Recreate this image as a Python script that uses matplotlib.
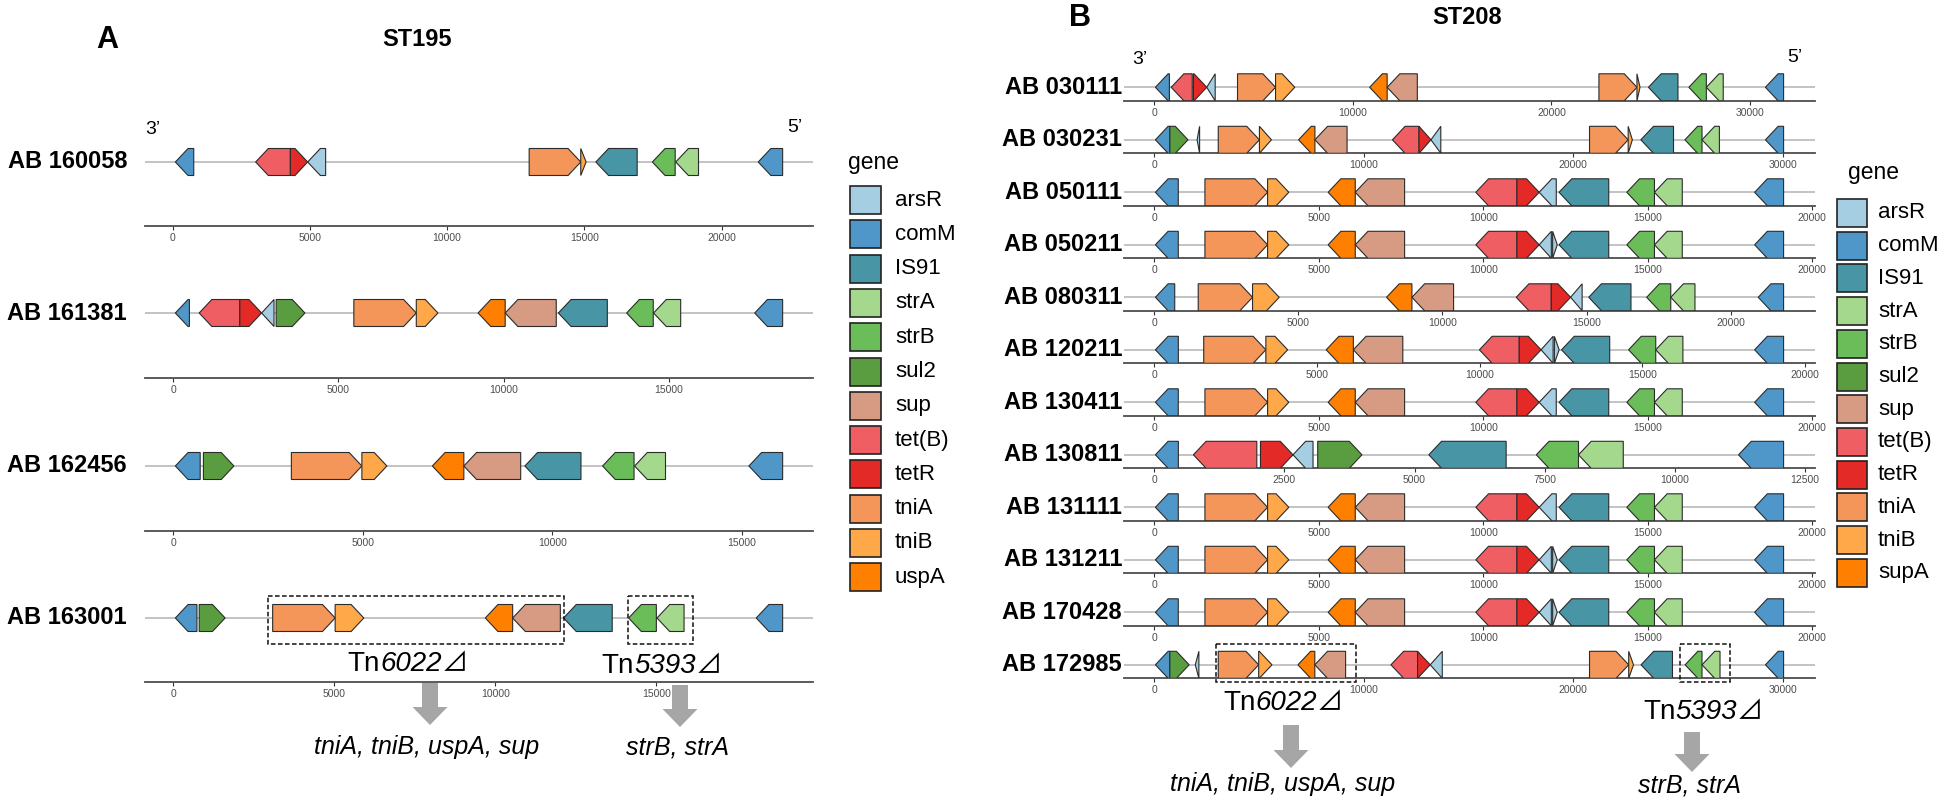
import matplotlib
matplotlib.use("Agg")
import matplotlib.pyplot as plt
from matplotlib.patches import Polygon, Rectangle, FancyArrow
from matplotlib.ticker import MaxNLocator, FuncFormatter

plt.rcParams['font.family'] = ['Liberation Sans', 'DejaVu Sans']

# gene colours and legend order
COLORS = {
    "arsR": "#A6CEE3", "comM": "#4F97C9", "IS91": "#4895A6", "strA": "#A4D88D",
    "strB": "#6BBD5A", "sul2": "#5A9D40", "sup": "#D79A83", "tet(B)": "#EE5E63",
    "tetR": "#E32A26", "tniA": "#F4955A", "tniB": "#FFA84A", "uspA": "#FF7F00",
}
LEGEND_KEYS = ["arsR", "comM", "IS91", "strA", "strB", "sul2", "sup", "tet(B)",
               "tetR", "tniA", "tniB", "uspA"]
LEGEND_A = ["arsR", "comM", "IS91", "strA", "strB", "sul2", "sup", "tet(B)",
            "tetR", "tniA", "tniB", "uspA"]
LEGEND_B = ["arsR", "comM", "IS91", "strA", "strB", "sul2", "sup", "tet(B)",
            "tetR", "tniA", "tniB", "supA"]

# (gene, start, end, strand)  -- ST195
AB160058 = [("comM", 100, 770, -1), ("tet(B)", 3025, 4290, -1), ("tetR", 4290, 4920, 1),
            ("arsR", 4920, 5575, -1), ("tniA", 12990, 14870, 1), ("tniB", 14870, 15065, 1),
            ("IS91", 15420, 16925, -1), ("strB", 17480, 18310, -1), ("strA", 18330, 19160, -1),
            ("comM", 21335, 22225, -1)]
AB161381 = [("comM", 70, 495, -1), ("tet(B)", 790, 2020, -1), ("tetR", 2020, 2680, 1),
            ("arsR", 2680, 3055, -1), ("sul2", 3120, 3990, 1), ("tniA", 5470, 7360, 1),
            ("tniB", 7360, 8015, 1), ("uspA", 9230, 10050, -1), ("sup", 10050, 11595, -1),
            ("IS91", 11660, 13140, -1), ("strB", 13725, 14530, -1), ("strA", 14540, 15360, -1),
            ("comM", 17600, 18445, -1)]
AB162456 = [("comM", 60, 715, -1), ("sul2", 800, 1605, 1), ("tniA", 3120, 4980, 1),
            ("tniB", 4980, 5640, 1), ("uspA", 6840, 7670, -1), ("sup", 7670, 9170, -1),
            ("IS91", 9280, 10760, -1), ("strB", 11330, 12160, -1), ("strA", 12175, 12990, -1),
            ("comM", 15190, 16080, -1)]
AB163001 = [("comM", 70, 740, -1), ("sul2", 810, 1615, 1), ("tniA", 3090, 5030, 1),
            ("tniB", 5030, 5920, 1), ("uspA", 9690, 10540, -1), ("sup", 10540, 12020, -1),
            ("IS91", 12120, 13630, -1), ("strB", 14140, 15000, -1), ("strA", 15020, 15860, -1),
            ("comM", 18100, 18920, -1)]
BOXES_163001 = [(2945, 12130), (14120, 16127)]

# ST208
AB030111 = [("comM", 55, 760, -1), ("tet(B)", 850, 1910, -1), ("tetR", 1970, 2640, 1),
            ("arsR", 2640, 3065, -1), ("tniA", 4190, 6105, 1), ("tniB", 6105, 7075, 1),
            ("uspA", 10845, 11725, -1), ("sup", 11725, 13245, -1), ("tniA", 22390, 24305, 1),
            ("tniB", 24305, 24460, 1), ("IS91", 24885, 26370, -1), ("strB", 26920, 27800, -1),
            ("strA", 27800, 28650, -1), ("comM", 30775, 31690, -1)]
AB030231 = [("comM", 55, 745, -1), ("sul2", 745, 1610, 1), ("arsR", 2045, 2165, -1),
            ("tniA", 3055, 5020, 1), ("tniB", 5020, 5595, 1), ("uspA", 6890, 7670, -1),
            ("sup", 7670, 9205, -1), ("tet(B)", 11370, 12640, -1), ("tetR", 12640, 13210, 1),
            ("arsR", 13210, 13680, -1), ("tniA", 20780, 22625, 1), ("tniB", 22625, 22825, 1),
            ("IS91", 23230, 24790, -1), ("strB", 25335, 26150, -1), ("strA", 26150, 26980, -1),
            ("comM", 29180, 30045, -1)]
AB050111 = [("comM", 35, 730, -1), ("tniA", 1540, 3445, 1), ("tniB", 3445, 4090, 1),
            ("uspA", 5285, 6110, -1), ("sup", 6110, 7610, -1), ("tet(B)", 9775, 11025, -1),
            ("tetR", 11025, 11700, 1), ("arsR", 11700, 12220, -1), ("IS91", 12305, 13815, -1),
            ("strB", 14365, 15205, -1), ("strA", 15205, 16050, -1), ("comM", 18250, 19130, -1)]
AB050211 = [("comM", 35, 730, -1), ("tniA", 1540, 3445, 1), ("tniB", 3445, 4090, 1),
            ("uspA", 5285, 6110, -1), ("sup", 6110, 7610, -1), ("tet(B)", 9775, 11025, -1),
            ("tetR", 11025, 11700, 1), ("arsR", 11700, 12070, -1), ("arsR", 12110, 12250, 1),
            ("IS91", 12305, 13815, -1), ("strB", 14365, 15205, -1), ("strA", 15205, 16050, -1),
            ("comM", 18250, 19130, -1)]
AB080311 = [("comM", 40, 710, -1), ("tniA", 1525, 3410, 1), ("tniB", 3410, 4335, 1),
            ("uspA", 8060, 8940, -1), ("sup", 8940, 10385, -1), ("tet(B)", 12560, 13775, -1),
            ("tetR", 13775, 14445, 1), ("arsR", 14445, 14845, -1), ("IS91", 15075, 16540, -1),
            ("strB", 17085, 17920, -1), ("strA", 17920, 18760, -1), ("comM", 20955, 21835, -1)]
AB120211 = [("comM", 35, 740, -1), ("tniA", 1520, 3430, 1), ("tniB", 3430, 4100, 1),
            ("uspA", 5285, 6120, -1), ("sup", 6120, 7640, -1), ("tet(B)", 9995, 11220, -1),
            ("tetR", 11220, 11890, 1), ("arsR", 11890, 12260, -1), ("arsR", 12300, 12445, 1),
            ("IS91", 12520, 14000, -1), ("strB", 14580, 15415, -1), ("strA", 15415, 16250, -1),
            ("comM", 18455, 19345, -1)]
AB130411 = list(AB050111)
AB130811 = [("comM", 22, 463, -1), ("tet(B)", 752, 1970, -1), ("tetR", 2040, 2665, 1),
            ("arsR", 2665, 3050, -1), ("sul2", 3140, 3990, 1), ("IS91", 5275, 6760, -1),
            ("strB", 7340, 8150, -1), ("strA", 8150, 9010, -1), ("comM", 11225, 12090, -1)]
AB131111 = list(AB050111)
AB131211 = list(AB050211)
AB170428 = list(AB050211)
AB172985 = [("comM", 55, 745, -1), ("sul2", 745, 1665, 1), ("arsR", 1960, 2130, -1),
            ("tniA", 3055, 4985, 1), ("tniB", 4985, 5620, 1), ("uspA", 6860, 7665, -1),
            ("sup", 7665, 9135, -1), ("tet(B)", 11300, 12570, -1), ("tetR", 12570, 13175, 1),
            ("arsR", 13175, 13750, -1), ("tniA", 20780, 22650, 1), ("tniB", 22650, 22880, 1),
            ("IS91", 23240, 24740, -1), ("strB", 25345, 26150, -1), ("strA", 26150, 27010, -1),
            ("comM", 29180, 30045, -1)]
BOXES_172985 = [(2945, 9630), (25110, 27495)]

TRACKS_A = [("AB 160058", AB160058), ("AB 161381", AB161381),
            ("AB 162456", AB162456), ("AB 163001", AB163001)]
TRACKS_B = [("AB 030111", AB030111), ("AB 030231", AB030231), ("AB 050111", AB050111),
            ("AB 050211", AB050211), ("AB 080311", AB080311), ("AB 120211", AB120211),
            ("AB 130411", AB130411), ("AB 130811", AB130811), ("AB 131111", AB131111),
            ("AB 131211", AB131211), ("AB 170428", AB170428), ("AB 172985", AB172985)]

W, H = 1946, 802
fig = plt.figure(figsize=(W / 100, H / 100), dpi=100)


def px_axes(left, top, right, bottom):
    return fig.add_axes([left / W, 1 - bottom / H, (right - left) / W, (bottom - top) / H])


over = px_axes(0, 0, W, H)
over.set_xlim(0, W)
over.set_ylim(H, 0)
over.axis("off")

HALF = 13.5   # half arrow height, px
HEAD = 12.7   # arrow head length, px


def draw_track(name, genes, left, right, gene_y, axis_y, label_x, boxes=(), box_span=(22, 24)):
    top = gene_y - 40
    ax = px_axes(left, top, right, axis_y)
    ax.patch.set_alpha(0)
    lo = min(g[1] for g in genes)
    hi = max(g[2] for g in genes)
    pad = 0.05 * (hi - lo)
    ax.set_xlim(lo - pad, hi + pad)
    ax.set_ylim(axis_y, top)
    head = HEAD * (hi - lo + 2 * pad) / (right - left)
    ax.axhline(gene_y, color="#BEBEBE", lw=1.3, zorder=1)
    for gene, s, e, strand in genes:
        h = min(head, e - s)
        if strand > 0:
            x0, x1, hx = s, e, e - h
        else:
            x0, x1, hx = e, s, s + h
        pts = [(x0, gene_y - HALF), (hx, gene_y - HALF), (x1, gene_y),
               (hx, gene_y + HALF), (x0, gene_y + HALF)]
        ax.add_patch(Polygon(pts, closed=True, fc=COLORS[gene], ec="#2b2b2b",
                             lw=0.8, zorder=3))
    for bs, be in boxes:
        ax.add_patch(Rectangle((bs, gene_y - box_span[0]), be - bs, sum(box_span),
                               fill=False, ec="#111111", lw=1.1, ls=(0, (3, 1.6)),
                               clip_on=False, zorder=4))
    for sp in ["left", "top", "right"]:
        ax.spines[sp].set_visible(False)
    ax.spines["bottom"].set_color("#4D4D4D")
    ax.spines["bottom"].set_linewidth(1.3)
    ax.set_yticks([])
    ax.xaxis.set_major_locator(MaxNLocator(nbins=6, steps=[1, 2.5, 5, 10]))
    ax.xaxis.set_major_formatter(FuncFormatter(lambda v, p: f"{v:.0f}"))
    ax.tick_params(axis="x", length=3, width=0.8, color="#333333", labelsize=7.5,
                   labelcolor="#4D4D4D", pad=2)
    over.text(label_x, gene_y, name, ha="right", va="center", fontsize=17, fontweight="bold")
    return ax


def tn_label(x, y, num):
    r = fig.canvas.get_renderer()
    parts = [("Tn", "normal", ["Liberation Sans"], 20),
             (num, "italic", ["Liberation Sans"], 20),
             ("\u22bf", "normal", ["Noto Sans CJK JP", "DejaVu Sans"], 19)]
    txts = [over.text(0, y, t, fontsize=fs, style=st, family=fam, va="center", ha="left")
            for t, st, fam, fs in parts]
    widths = [t.get_window_extent(renderer=r).width for t in txts]
    cx = x - sum(widths) / 2
    for t, w in zip(txts, widths):
        t.set_x(cx)
        cx += w


def draw_legend(x_box, y_top, pitch, bw, bh, labels, title_xy, text_x):
    over.text(title_xy[0], title_xy[1], "gene", fontsize=16.5, ha="left", va="center")
    for i, (lab, key) in enumerate(zip(labels, LEGEND_KEYS)):
        y = y_top + i * pitch
        over.add_patch(Rectangle((x_box, y), bw, bh, fc=COLORS[key], ec="#222222", lw=1.2))
        over.text(text_x, y + bh / 2, lab, fontsize=16, ha="left", va="center")


def big_arrow(x, y0, y1):
    over.add_patch(FancyArrow(x, y0, 0, y1 - y0, width=16, head_width=35, head_length=18,
                              length_includes_head=True, color="#A6A6A6", lw=0))


# ---- panel A ----
over.text(107, 40, "A", fontsize=22, fontweight="bold", ha="center", va="center")
over.text(417, 40, "ST195", fontsize=17, fontweight="bold", ha="center", va="center")
over.text(153, 130, "3\u2019", fontsize=14, ha="center", va="center")
over.text(795, 128, "5\u2019", fontsize=14, ha="center", va="center")
gene_ys_a = [162, 313, 466, 618]
axis_ys_a = [226, 378, 531, 682]
for i, (name, genes) in enumerate(TRACKS_A):
    boxes = BOXES_163001 if name == "AB 163001" else ()
    draw_track(name, genes, 145, 813, gene_ys_a[i], axis_ys_a[i], 127, boxes, (22, 26))
draw_legend(850, 186, 34.3, 31, 28, LEGEND_A, (848, 162), 895)
tn_label(408, 664, "6022")
tn_label(662, 666, "5393")
big_arrow(430, 683, 725)
big_arrow(680, 685, 727)
over.text(427, 747, "tniA, tniB, uspA, sup", fontsize=18, style="italic", ha="center", va="center")
over.text(678, 747, "strB, strA", fontsize=18, style="italic", ha="center", va="center")

# ---- panel B ----
over.text(1080, 18, "B", fontsize=22, fontweight="bold", ha="center", va="center")
over.text(1467, 18, "ST208", fontsize=17, fontweight="bold", ha="center", va="center")
over.text(1140, 60, "3\u2019", fontsize=14, ha="center", va="center")
over.text(1795, 58, "5\u2019", fontsize=14, ha="center", va="center")
for i, (name, genes) in enumerate(TRACKS_B):
    gy = 87.3 + 52.5 * i
    boxes = BOXES_172985 if name == "AB 172985" else ()
    draw_track(name, genes, 1124, 1815, gy, gy + 13.5, 1122, boxes, (21, 17))
draw_legend(1837, 199, 32.7, 30, 28, LEGEND_B, (1848, 172), 1878)
tn_label(1283, 703, "6022")
tn_label(1703, 712, "5393")
big_arrow(1291, 725, 768)
big_arrow(1692, 732, 772)
over.text(1283, 784, "tniA, tniB, uspA, sup", fontsize=18, style="italic", ha="center", va="center")
over.text(1690, 785, "strB, strA", fontsize=18, style="italic", ha="center", va="center")

fig.savefig("out.png", dpi=100)
